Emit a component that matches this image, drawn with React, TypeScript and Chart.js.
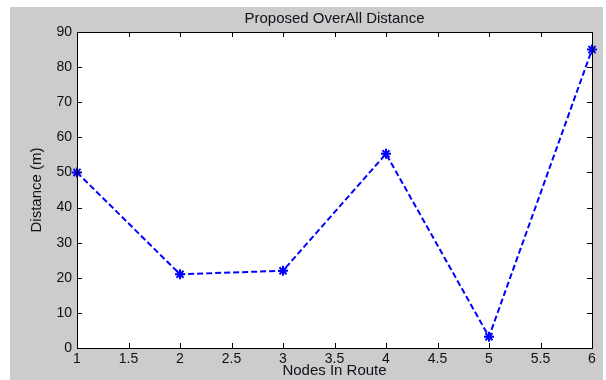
import React, { useEffect, useRef } from "react";
import { Chart, registerables } from "chart.js";

Chart.register(...registerables);

const TITLE = "Proposed OverAll Distance";
const X_LABEL = "Nodes In Route";
const Y_LABEL = "Distance (m)";
const nodes = [1, 2, 3, 4, 5, 6];
const distances = [50, 21, 22, 55.3, 3.2, 85];

const FONT = "'Liberation Sans', Arial, sans-serif";
const TEXT = "#101018";

const boxPlugin = {
  id: "matlabBox",
  beforeDraw(chart: any) {
    const { ctx, chartArea: a } = chart;
    ctx.save();
    ctx.fillStyle = "#ffffff";
    ctx.fillRect(a.left, a.top, a.right - a.left, a.bottom - a.top);
    ctx.restore();
  },
  afterDraw(chart: any) {
    const { ctx, chartArea: a, scales } = chart;
    const len = 5;
    ctx.save();
    ctx.strokeStyle = "#000000";
    ctx.lineWidth = 1;
    ctx.beginPath();
    scales.x.ticks.forEach((t: any) => {
      const px = Math.round(scales.x.getPixelForValue(t.value)) + 0.5;
      ctx.moveTo(px, a.bottom);
      ctx.lineTo(px, a.bottom - len);
      ctx.moveTo(px, a.top);
      ctx.lineTo(px, a.top + len);
    });
    scales.y.ticks.forEach((t: any) => {
      const py = Math.round(scales.y.getPixelForValue(t.value)) + 0.5;
      ctx.moveTo(a.left, py);
      ctx.lineTo(a.left + len, py);
      ctx.moveTo(a.right, py);
      ctx.lineTo(a.right - len, py);
    });
    ctx.stroke();
    ctx.strokeRect(
      Math.round(a.left) + 0.5,
      Math.round(a.top) + 0.5,
      Math.round(a.right - a.left),
      Math.round(a.bottom - a.top)
    );
    ctx.restore();
  },
};

export default function App() {
  const ref = useRef<HTMLCanvasElement | null>(null);

  useEffect(() => {
    if (!ref.current) return;
    const chart = new Chart(ref.current, {
      type: "line",
      data: {
        datasets: [
          {
            data: nodes.map((n, i) => ({ x: n, y: distances[i] })),
            borderColor: "#0000ff",
            backgroundColor: "#0000ff",
            borderWidth: 2,
            borderDash: [6, 3],
            pointStyle: "star",
            pointRadius: 5,
            pointBorderWidth: 2,
            pointBorderColor: "#0000ff",
            tension: 0,
            clip: false,
          } as any,
        ],
      },
      options: {
        animation: false,
        responsive: false,
        maintainAspectRatio: false,
        layout: { padding: { left: 0, right: 11, top: 0, bottom: 0 } },
        plugins: {
          legend: { display: false },
          tooltip: { enabled: false },
          title: {
            display: true,
            text: TITLE,
            fullSize: false,
            color: TEXT,
            font: { family: FONT, size: 15, weight: "normal" },
            padding: { top: 3, bottom: 4 },
          } as any,
        },
        scales: {
          x: {
            type: "linear",
            min: 1,
            max: 6,
            grid: { display: false, drawTicks: false },
            border: { display: false },
            ticks: {
              stepSize: 0.5,
              color: TEXT,
              padding: 3,
              maxRotation: 0,
              font: { family: FONT, size: 14 },
              callback: (v: any) => String(Number(v)),
            },
            title: {
              display: true,
              text: X_LABEL,
              color: TEXT,
              font: { family: FONT, size: 15 },
              padding: { top: 0, bottom: 0 },
            },
            afterFit(scale: any) {
              scale.height = 32;
            },
          },
          y: {
            type: "linear",
            min: 0,
            max: 90,
            grid: { display: false, drawTicks: false },
            border: { display: false },
            ticks: {
              stepSize: 10,
              color: TEXT,
              padding: 5,
              font: { family: FONT, size: 14 },
              callback: (v: any) => String(Number(v)),
            },
            title: {
              display: true,
              text: Y_LABEL,
              color: TEXT,
              font: { family: FONT, size: 15 },
              padding: { top: 18, bottom: 0 },
            },
            afterFit(scale: any) {
              scale.width = 67;
            },
          },
        },
      },
      plugins: [boxPlugin],
    });
    return () => chart.destroy();
  }, []);

  return (
    <div style={{ position: "absolute", left: 0, top: 0, width: 606, height: 380, background: "#ffffff" }}>
      <div style={{ position: "absolute", left: 10, top: 7, width: 593, height: 373, background: "#cccccc" }}>
        <canvas ref={ref} width={593} height={373} style={{ display: "block", width: 593, height: 373 }} />
      </div>
    </div>
  );
}
